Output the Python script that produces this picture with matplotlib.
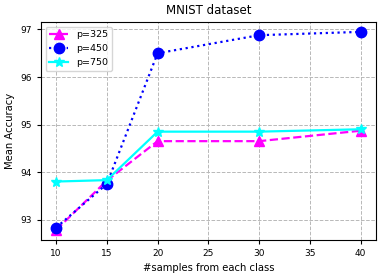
import matplotlib
matplotlib.use('Agg')
import matplotlib.pyplot as plt

samples = [10, 15, 20, 30, 40]
acc_325 = [92.78, 93.82, 94.65, 94.65, 94.87]
acc_450 = [92.83, 93.75, 96.50, 96.88, 96.95]
acc_750 = [93.80, 93.83, 94.85, 94.85, 94.90]

fig, ax = plt.subplots(figsize=(3.82, 2.78), dpi=100)

ax.plot(samples, acc_325, color='magenta', linestyle='--', marker='^', markersize=7.5, linewidth=1.6, label='p=325')
ax.plot(samples, acc_450, color='blue', linestyle=':', marker='o', markersize=7.5, linewidth=1.6, label='p=450')
ax.plot(samples, acc_750, color='cyan', linestyle='-', marker='*', markersize=7.5, linewidth=1.6, label='p=750')

ax.set_xticks([10, 15, 20, 25, 30, 35, 40])
ax.set_yticks([93, 94, 95, 96, 97])
ax.grid(True, linestyle='--', color='#b8b8b8', linewidth=0.7)
ax.set_title('MNIST dataset', fontsize=8.5)
ax.set_xlabel('#samples from each class', fontsize=7.2)
ax.set_ylabel('Mean Accuracy', fontsize=7.2)
ax.tick_params(labelsize=6.5, length=3)
ax.legend(loc='upper left', fontsize=6.8)

fig.subplots_adjust(left=0.107, right=0.984, top=0.921, bottom=0.137)
fig.savefig('out.png')
